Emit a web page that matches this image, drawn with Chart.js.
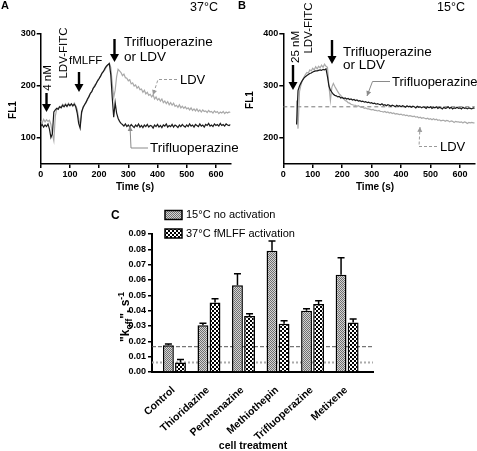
<!DOCTYPE html>
<html><head><meta charset="utf-8">
<script src="https://cdn.jsdelivr.net/npm/chart.js@4.4.1/dist/chart.umd.min.js"></script>
<style>
html,body{margin:0;padding:0;background:#fff;}
#wrap{position:relative;width:477px;height:451px;overflow:hidden;background:#fff;}
canvas{position:absolute;}
</style></head><body>
<div id="wrap">
<canvas id="cA" width="238" height="200" style="left:0;top:0;width:238px;height:200px"></canvas>
<canvas id="cB" width="239" height="200" style="left:238px;top:0;width:239px;height:200px"></canvas>
<canvas id="cC" width="477" height="251" style="left:0;top:200px;width:477px;height:251px"></canvas>
</div>
<script>
// ---------- DATA ----------
// Panel A (37 °C): time (s) and FL1 traces
const aTime = [
  0,5,10,15,20,25,30,35,40,45,
  50,55,60,65,70,75,80,85,90,95,
  100,105,110,115,120,125,130,135,140,145,
  150,155,160,165,170,175,180,185,190,195,
  200,205,210,215,220,225,230,235,240,245,
  250,255,260,265,270,275,280,285,290,295,
  300,305,310,315,320,325,330,335,340,345,
  350,355,360,365,370,375,380,385,390,395,
  400,405,410,415,420,425,430,435,440,445,
  450,455,460,465,470,475,480,485,490,495,
  500,505,510,515,520,525,530,535,540,545,
  550,555,560,565,570,575,580,585,590,595,
  600,605,610,615,620,625,630,635,640,645,
  650];
const aTrifluoperazine = [
  123,126,121,125,122,127,117,101,108,150,
  154,157,155,160,158,163,160,164,161,165,
  162,166,162,165,160,148,128,119,150,158,
  164,168,175,179,186,189,196,199,205,210,
  214,219,225,228,234,238,241,243,222,178,
  140,168,148,138,132,128,126,123,127,122,
  125,121,126,123,120,125,122,127,121,124,
  120,125,122,126,121,124,123,119,125,122,
  126,121,124,120,125,123,127,121,124,122,
  126,121,125,123,120,125,122,126,123,121,
  125,122,127,123,125,121,126,124,122,127,
  123,125,121,126,124,128,123,125,122,127,
  124,126,123,128,124,126,123,127,125,124,
  126];
const aLDV = [
  133,129,136,131,135,132,134,126,108,95,
  142,156,158,161,159,165,162,166,160,167,
  163,165,161,167,162,155,138,124,146,160,
  163,170,172,181,185,190,195,202,204,211,
  215,219,224,229,231,237,240,244,236,205,
  178,192,218,232,229,226,220,223,216,215,
  210,212,204,206,200,202,196,199,193,194,
  188,192,185,188,182,184,179,183,175,179,
  173,176,171,175,168,171,166,170,164,168,
  163,167,161,163,159,164,158,161,157,160,
  156,158,154,158,153,156,152,156,151,154,
  150,154,151,152,149,153,150,151,148,152,
  149,151,147,150,148,151,147,150,148,150,
  149];

// Panel B (15 °C)
const bTime = [
  45,50,55,60,65,70,75,80,85,90,
  95,100,105,110,115,120,125,130,135,140,
  145,150,155,160,165,170,175,180,185,190,
  195,200,205,210,215,220,225,230,235,240,
  245,250,255,260,265,270,275,280,285,290,
  295,300,305,310,315,320,325,330,335,340,
  345,350,355,360,365,370,375,380,385,390,
  395,400,405,410,415,420,425,430,435,440,
  445,450,455,460,465,470,475,480,485,490,
  495,500,505,510,515,520,525,530,535,540,
  545,550,555,560,565,570,575,580,585,590,
  595,600,605,610,615,620,625,630,635,640,
  645,650];
const bTrifluoperazine = [
  226,291,300,306,311,315,318,320,322,324,
  325,327,328,329,329,330,331,330,332,331,
  333,318,300,292,288,284,282,281,279,280,
  277,278,276,277,275,276,274,275,273,274,
  272,273,271,272,270,271,269,270,268,269,
  267,268,266,267,265,266,265,264,266,263,
  264,262,264,263,261,263,262,260,263,261,
  262,260,262,261,259,262,260,261,259,261,
  260,258,261,259,260,258,260,259,257,260,
  258,260,257,259,258,260,257,259,258,256,
  259,257,258,260,257,259,256,258,257,259,
  257,258,256,259,257,258,256,258,257,256,
  258,257];
const bLDV = [
  272,218,289,302,311,317,322,326,325,331,
  329,334,331,337,333,338,335,340,336,342,
  338,336,300,272,298,305,299,294,289,285,
  282,278,276,272,271,268,267,265,264,263,
  263,261,262,260,259,259,257,258,256,256,
  255,254,255,253,253,252,253,251,251,250,
  251,249,250,248,249,247,248,246,247,246,
  245,246,244,245,243,244,242,243,242,241,
  242,240,241,239,240,238,239,238,237,238,
  236,237,235,237,235,236,234,235,233,234,
  234,232,234,233,231,233,232,230,232,231,
  231,230,231,229,231,230,228,230,229,230,
  229,229];
const bBaseline = [260];

// Panel C: "koff" by cell treatment
const cCategories = ['Control','Thioridazine','Perphenazine','Methiothepin','Trifluoperazine','Metixene'];
const c15NoActivation = [0.0175, 0.0305, 0.0565, 0.0790, 0.0400, 0.0635];
const c15Err          = [0.0008, 0.0013, 0.0075, 0.0065, 0.0012, 0.0110];
const c37fMLFF        = [0.0062, 0.0453, 0.0365, 0.0315, 0.0443, 0.0323];
const c37Err          = [0.0020, 0.0025, 0.0015, 0.0019, 0.0021, 0.0023];
const cRefLines       = [0.0165, 0.0062];

// ---------- STYLE / HELPERS ----------
const FF = '"Liberation Sans", Arial, Helvetica, sans-serif';
Chart.defaults.font.family = FF;
Chart.defaults.color = '#000';

function txt(ctx, s, x, y, font, rot, align) {
  ctx.save();
  ctx.font = font; ctx.fillStyle = '#000';
  ctx.textAlign = align || (rot ? 'center' : 'left'); ctx.textBaseline = 'middle';
  ctx.translate(x, y); if (rot) ctx.rotate(rot);
  ctx.fillText(s, 0, 0);
  ctx.restore();
}
function bigArrow(ctx, x, y1, y2) {
  const hl = 8, hw = 4.5;
  ctx.save(); ctx.strokeStyle = '#000'; ctx.fillStyle = '#000'; ctx.lineWidth = 2.4;
  ctx.beginPath(); ctx.moveTo(x, y1); ctx.lineTo(x, y2 - hl + 2); ctx.stroke();
  ctx.beginPath(); ctx.moveTo(x - hw, y2 - hl); ctx.lineTo(x + hw, y2 - hl); ctx.lineTo(x, y2); ctx.closePath(); ctx.fill();
  ctx.restore();
}
function leader(ctx, pts, color, dash) {
  ctx.save(); ctx.strokeStyle = color; ctx.fillStyle = color; ctx.lineWidth = 1;
  ctx.setLineDash(dash || []);
  ctx.beginPath(); pts.forEach((p, i) => i ? ctx.lineTo(p[0], p[1]) : ctx.moveTo(p[0], p[1])); ctx.stroke();
  ctx.setLineDash([]);
  const [x2, y2] = pts[pts.length - 1], [x1, y1] = pts[pts.length - 2];
  const a = Math.atan2(y2 - y1, x2 - x1), L = 5, W = 2.5;
  ctx.beginPath(); ctx.moveTo(x2, y2);
  ctx.lineTo(x2 - L * Math.cos(a) + W * Math.sin(a), y2 - L * Math.sin(a) - W * Math.cos(a));
  ctx.lineTo(x2 - L * Math.cos(a) - W * Math.sin(a), y2 - L * Math.sin(a) + W * Math.cos(a));
  ctx.closePath(); ctx.fill(); ctx.restore();
}
function hLines(chart, values, styles) {
  const ctx = chart.ctx, ca = chart.chartArea, ys = chart.scales.y;
  values.forEach((v, i) => {
    const st = styles[i], y = ys.getPixelForValue(v);
    ctx.save(); ctx.strokeStyle = st.color; ctx.lineWidth = st.width; ctx.setLineDash(st.dash);
    ctx.beginPath(); ctx.moveTo(ca.left, y); ctx.lineTo(ca.right, y); ctx.stroke(); ctx.restore();
  });
}

function traceScales(ymin, ymax, yWidth) {
  const tickFont = { size: 9, weight: 'bold' };
  const grid = { drawOnChartArea: false, drawTicks: true, tickLength: 4, color: '#000', lineWidth: 1.5 };
  const border = { display: true, color: '#000', width: 1.5 };
  return {
    x: { type: 'linear', min: 0, max: 650,
      afterBuildTicks: s => { s.ticks = s.ticks.filter(t => t.value % 100 === 0); },
      ticks: { stepSize: 100, includeBounds: false, font: tickFont, padding: 1, maxRotation: 0, autoSkip: false, color: '#000' },
      grid, border, afterFit: s => { s.height = 36; } },
    y: { type: 'linear', min: ymin, max: ymax,
      afterBuildTicks: s => { s.ticks = s.ticks.filter(t => t.value % 100 === 0); },
      ticks: { stepSize: 100, includeBounds: false, font: tickFont, padding: 1, color: '#000' },
      grid, border, afterFit: s => { s.width = yWidth; } }
  };
}
function series(times, vals) { return times.map((t, i) => ({ x: t, y: vals[i] })); }
const base = { responsive: false, animation: false, devicePixelRatio: 1,
  plugins: { legend: { display: false }, tooltip: { enabled: false } },
  elements: { point: { radius: 0 }, line: { tension: 0 } } };

// ---------- PANEL A ----------
new Chart(document.getElementById('cA'), {
  type: 'line',
  data: { datasets: [
    { label: 'Trifluoperazine', data: series(aTime, aTrifluoperazine), borderColor: '#1a1a1a', borderWidth: 1.2 },
    { label: 'LDV', data: series(aTime, aLDV), borderColor: '#a9a9a9', borderWidth: 1.2 }
  ]},
  options: Object.assign({}, base, {
    layout: { padding: { left: 0, right: 7.5, top: 34, bottom: 0 } },
    scales: traceScales(50, 300, 40.7)
  }),
  plugins: [{ id: 'decoA', afterDraw(chart) {
    const ctx = chart.ctx;
    txt(ctx, 'A', 1, 6, 'bold 11px ' + FF);
    txt(ctx, '37°C', 190, 8, '12.5px ' + FF);
    txt(ctx, 'FL1', 13, 110, 'bold 10px ' + FF, -Math.PI / 2);
    txt(ctx, 'Time (s)', 135, 187, 'bold 10px ' + FF, 0, 'center');
    txt(ctx, '4 nM', 48, 78, '11.5px ' + FF, -Math.PI / 2);
    txt(ctx, 'LDV-FITC', 64, 53, '11.5px ' + FF, -Math.PI / 2);
    txt(ctx, 'fMLFF', 69, 61, '11.5px ' + FF);
    txt(ctx, 'Trifluoperazine', 124, 42, '13.5px ' + FF);
    txt(ctx, 'or LDV', 124, 57, '13.5px ' + FF);
    txt(ctx, 'LDV', 180, 80, '13px ' + FF);
    txt(ctx, 'Trifluoperazine', 150, 148, '13.5px ' + FF);
    bigArrow(ctx, 46.5, 93, 112);
    bigArrow(ctx, 79, 72, 92);
    bigArrow(ctx, 114.5, 39, 62);
    leader(ctx, [[177, 79.5], [158, 79.5], [153, 95]], '#9a9a9a', [3, 2]);
    leader(ctx, [[148, 148], [131, 148], [130, 126]], '#8a8a8a');
  }}]
});

// ---------- PANEL B ----------
new Chart(document.getElementById('cB'), {
  type: 'line',
  data: { datasets: [
    { label: 'Trifluoperazine', data: series(bTime, bTrifluoperazine), borderColor: '#1a1a1a', borderWidth: 1.2 },
    { label: 'LDV', data: series(bTime, bLDV), borderColor: '#a9a9a9', borderWidth: 1.2 }
  ]},
  options: Object.assign({}, base, {
    layout: { padding: { left: 0, right: 2.3, top: 34, bottom: 0 } },
    scales: traceScales(150, 400, 45.3)
  }),
  plugins: [{ id: 'decoB',
    beforeDatasetsDraw(chart) { hLines(chart, bBaseline, [{ color: '#777', width: 1, dash: [4, 3] }]); },
    afterDraw(chart) {
      const ctx = chart.ctx;
      txt(ctx, 'B', 0, 6, 'bold 11px ' + FF);
      txt(ctx, '15°C', 199, 8, '12.5px ' + FF);
      txt(ctx, 'FL1', 12, 100, 'bold 10px ' + FF, -Math.PI / 2);
      txt(ctx, 'Time (s)', 137, 187, 'bold 10px ' + FF, 0, 'center');
      txt(ctx, '25 nM', 58, 47, '11.5px ' + FF, -Math.PI / 2);
      txt(ctx, 'LDV-FITC', 70.5, 28, '11.5px ' + FF, -Math.PI / 2);
      txt(ctx, 'Trifluoperazine', 105, 52, '13.5px ' + FF);
      txt(ctx, 'or LDV', 105, 65, '13.5px ' + FF);
      txt(ctx, 'Trifluoperazine', 154, 82, '13px ' + FF);
      txt(ctx, 'LDV', 202, 147, '13px ' + FF);
      bigArrow(ctx, 55, 65, 90);
      bigArrow(ctx, 94, 40, 64);
      leader(ctx, [[152, 81.5], [134.5, 81.5], [129, 96]], '#8a8a8a');
      leader(ctx, [[199, 146.5], [181, 146.5], [182, 127]], '#9a9a9a', [3, 2]);
    }}]
});

// ---------- PANEL C ----------
function makePattern(size, draw) {
  const c = document.createElement('canvas'); c.width = size; c.height = size;
  const g = c.getContext('2d'); draw(g);
  return document.getElementById('cC').getContext('2d').createPattern(c, 'repeat');
}
const pat15 = makePattern(2, g => { g.fillStyle = '#d4d4d4'; g.fillRect(0, 0, 2, 2); g.fillStyle = '#707070'; g.fillRect(0, 0, 1, 1); g.fillRect(1, 1, 1, 1); });
const pat37 = makePattern(4, g => { g.fillStyle = '#000'; g.fillRect(0, 0, 4, 4); g.fillStyle = '#fff'; g.fillRect(0, 0, 2, 2); g.fillRect(2, 2, 2, 2); });
const cErrs = [c15Err, c37Err];

new Chart(document.getElementById('cC'), {
  type: 'bar',
  data: { datasets: [
    { label: '15°C no activation', data: cCategories.map((c, i) => ({ x: i, y: c15NoActivation[i] })),
      backgroundColor: pat15, borderColor: '#000', borderWidth: 1.5, categoryPercentage: 0.7, barPercentage: 0.9 },
    { label: '37°C fMLFF activation', data: cCategories.map((c, i) => ({ x: i, y: c37fMLFF[i] })),
      backgroundColor: pat37, borderColor: '#000', borderWidth: 1.5, categoryPercentage: 0.7, barPercentage: 0.9 }
  ]},
  options: Object.assign({}, base, {
    layout: { padding: { left: 0, right: 104, top: 34, bottom: 0 } },
    scales: {
      x: { type: 'linear', min: -0.65, max: 5.75, offset: false,
        afterBuildTicks: s => { s.ticks = cCategories.map((c, i) => ({ value: i })); },
        ticks: { callback: v => cCategories[v], autoSkip: false, minRotation: 42, maxRotation: 42,
          font: { size: 10.5, weight: 'bold' }, padding: 4, labelOffset: -1, color: '#000' },
        grid: { display: false, offset: false }, border: { display: true, color: '#000', width: 2 },
        afterFit: s => { s.height = 79; } },
      y: { type: 'linear', min: 0, max: 0.09,
        ticks: { stepSize: 0.01, callback: v => Number(v).toFixed(2), font: { size: 9, weight: 'bold' }, padding: 2, color: '#000' },
        grid: { drawOnChartArea: false, drawTicks: true, tickLength: 4, color: '#000', lineWidth: 1.5 },
        border: { display: true, color: '#000', width: 2 },
        afterFit: s => { s.width = 152; } }
    }
  }),
  plugins: [{ id: 'decoC',
    beforeDatasetsDraw(chart) {
      hLines(chart, cRefLines, [{ color: '#555', width: 1, dash: [4, 2] }, { color: '#aaa', width: 2, dash: [2, 2] }]);
    },
    afterDatasetsDraw(chart) {
      const ctx = chart.ctx, ys = chart.scales.y;
      chart.data.datasets.forEach((ds, di) => {
        chart.getDatasetMeta(di).data.forEach((el, j) => {
          const top = ys.getPixelForValue(ds.data[j].y + cErrs[di][j]);
          ctx.save(); ctx.strokeStyle = '#000'; ctx.lineWidth = 1.5;
          ctx.beginPath(); ctx.moveTo(el.x, el.y); ctx.lineTo(el.x, top);
          ctx.moveTo(el.x - 3.5, top); ctx.lineTo(el.x + 3.5, top); ctx.stroke(); ctx.restore();
        });
      });
    },
    afterDraw(chart) {
      const ctx = chart.ctx;
      txt(ctx, 'C', 111, 16, 'bold 12px ' + FF);
      [[pat15, chart.data.datasets[0].label, 10.5], [pat37, chart.data.datasets[1].label, 29]].forEach(([p, t, y]) => {
        ctx.save(); ctx.fillStyle = p; ctx.fillRect(165, y, 17, 9);
        ctx.strokeStyle = '#000'; ctx.lineWidth = 1.5; ctx.strokeRect(165, y, 17, 9); ctx.restore();
        txt(ctx, t, 186, y + 4.5, '11px ' + FF);
      });
      // y-axis title with sub/superscripts
      ctx.save(); ctx.translate(125, 117); ctx.rotate(-Math.PI / 2);
      const big = 'bold 12px ' + FF, small = 'bold 8.5px ' + FF;
      const parts = [['"k', big, 0], ['off', small, 3], ['", s', big, 0], ['-1', small, -5]];
      let w = 0; parts.forEach(p => { ctx.font = p[1]; w += ctx.measureText(p[0]).width; });
      let x = -w / 2; ctx.textBaseline = 'alphabetic'; ctx.fillStyle = '#000';
      parts.forEach(p => { ctx.font = p[1]; ctx.fillText(p[0], x, 4 + p[2]); x += ctx.measureText(p[0]).width; });
      ctx.restore();
      txt(ctx, 'cell treatment', 253, 246, 'bold 10.5px ' + FF, 0, 'center');
    }}]
});
</script>
</body></html>
